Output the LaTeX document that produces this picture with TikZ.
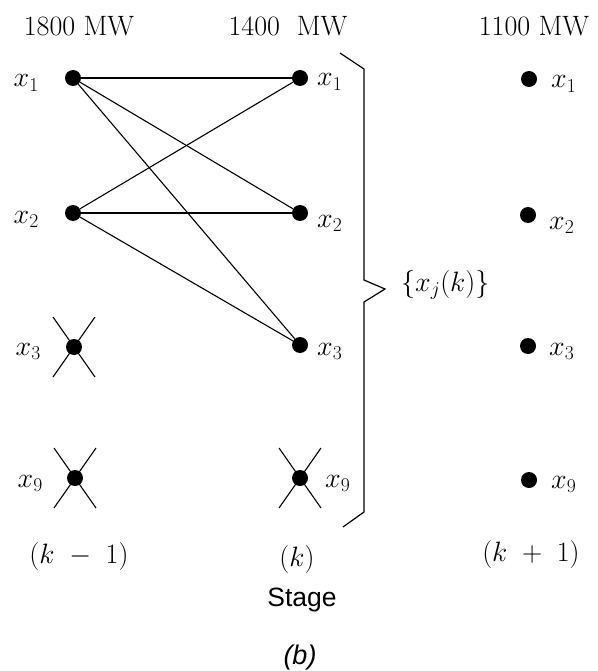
\RequirePackage{fix-cm}
\documentclass[tikz,border=0pt]{standalone}
\usepackage{fontspec}
\setsansfont{Liberation Sans}
\begin{document}
\begin{tikzpicture}[x=1pt,y=-1pt,
  dotn/.style={circle,fill=black,inner sep=0pt,minimum size=16pt},
  txt/.style={font=\fontsize{28}{33}\selectfont,inner sep=0pt},
  conn/.style={line width=1.1pt},
  crs/.style={line width=1.1pt}]
\useasboundingbox (0,0) rectangle (597,671);
% headers
\node[txt,anchor=base] (h1) at (79,36) {1800 MW};
\node[txt,anchor=base] (h2) at (288,36) {1400\ \ MW};
\node[txt,anchor=base] (h3) at (534,36) {1100 MW};
% column 1
\node[dotn] (a1) at (73,78) {};
\node[dotn] (a2) at (73,213) {};
\node[dotn] (a3) at (74,347) {};
\node[dotn] (a9) at (75,478) {};
% column 2
\node[dotn] (b1) at (300,78) {};
\node[dotn] (b2) at (300,213) {};
\node[dotn] (b3) at (300,345) {};
\node[dotn] (b9) at (300,478) {};
% column 3
\node[dotn] (c1) at (529,79) {};
\node[dotn] (c2) at (528,215) {};
\node[dotn] (c3) at (528,346) {};
\node[dotn] (c9) at (529,480) {};
% labels column 1
\node[txt,anchor=base east] (la1) at (39,87) {$x_1$};
\node[txt,anchor=base east] (la2) at (39,223) {$x_2$};
\node[txt,anchor=base east] (la3) at (41,355) {$x_3$};
\node[txt,anchor=base east] (la9) at (43,487) {$x_9$};
% labels column 2
\node[txt,anchor=base west] (lb1) at (317,86) {$x_1$};
\node[txt,anchor=base west] (lb2) at (317,227) {$x_2$};
\node[txt,anchor=base west] (lb3) at (317,355) {$x_3$};
\node[txt,anchor=base west] (lb9) at (325,487) {$x_9$};
% labels column 3
\node[txt,anchor=base west] (lc1) at (551,88) {$x_1$};
\node[txt,anchor=base west] (lc2) at (549,229) {$x_2$};
\node[txt,anchor=base west] (lc3) at (549,355) {$x_3$};
\node[txt,anchor=base west] (lc9) at (551,488) {$x_9$};
% connectors
\draw[conn] (a1) -- (b1);
\draw[conn] (a1) -- (b2);
\draw[conn] (a1) -- (b3);
\draw[conn] (a2) -- (b1);
\draw[conn] (a2) -- (b2);
\draw[conn] (a2) -- (b3);
% crosses
\foreach \n in {a3,a9,b9}{
  \draw[crs] (\n.center) ++(-21,-30) -- ++(42,60);
  \draw[crs] (\n.center) ++(21,-30) -- ++(-42,60);
}
% brace
\draw[line width=1.2pt,line join=miter] (340,53) -- (364,69) -- (364,280) -- (385,289) -- (364,302) -- (364,512) -- (343,527);
\node[txt,anchor=base west] (set) at (401,291) {$\{x_j(k)\}$};
% bottom labels
\node[txt,anchor=base] (s1) at (79,563) {$(k\ -\ 1)$};
\node[txt,anchor=base] (s2) at (297,566) {$(k)$};
\node[txt,anchor=base] (s3) at (531,561) {$(k\ +\ 1)$};
\node[txt,anchor=base,font=\fontsize{26.5}{30}\selectfont\sffamily] (stage) at (302,606) {Stage};
\node[txt,anchor=base,font=\fontsize{27}{30}\selectfont\sffamily\itshape] (b) at (300,664) {(b)};
\end{tikzpicture}
\end{document}
